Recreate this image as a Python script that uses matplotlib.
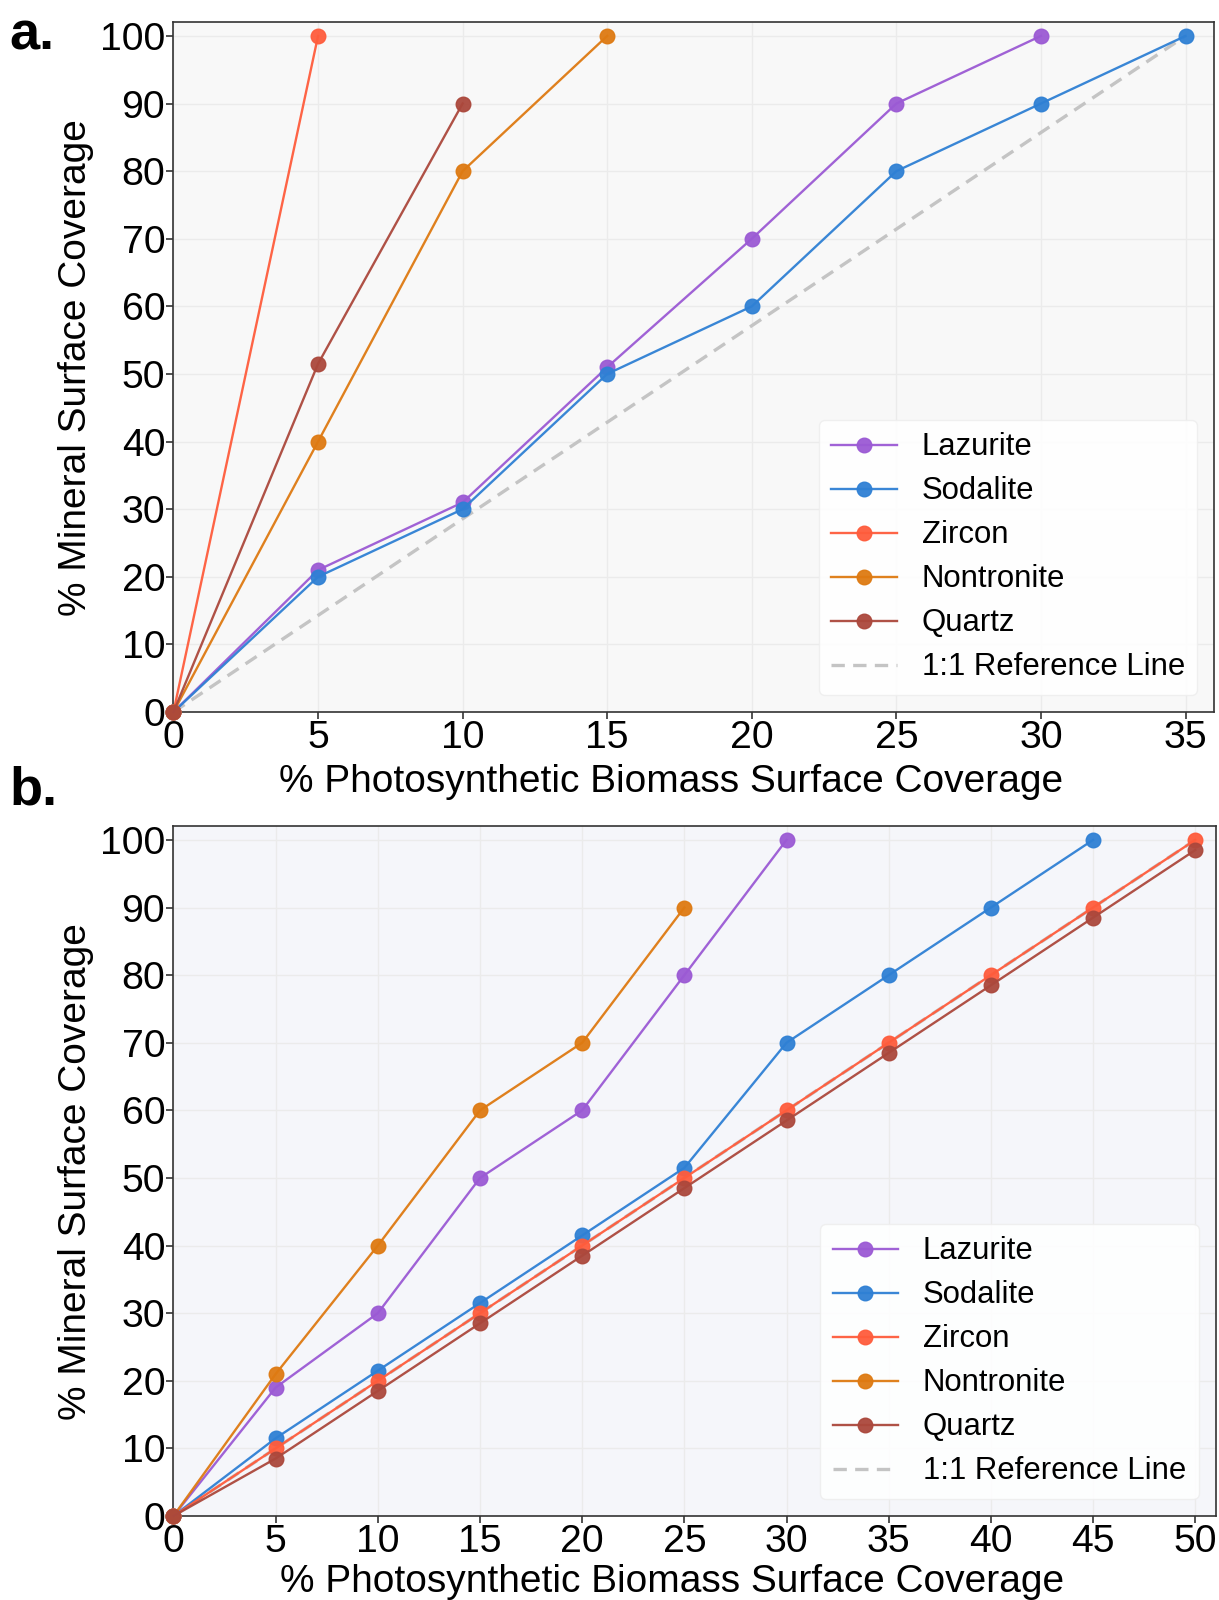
import matplotlib
matplotlib.use("Agg")
import matplotlib.pyplot as plt

plt.rcParams["font.family"] = ["Liberation Sans", "DejaVu Sans"]

minerals = ["Lazurite", "Sodalite", "Zircon", "Nontronite", "Quartz"]
colors = {
    "Lazurite": "#9b5ad4",
    "Sodalite": "#2f80d4",
    "Zircon": "#ff5c3c",
    "Nontronite": "#de7a12",
    "Quartz": "#ab483c",
}

# panel a
a_x = {
    "Lazurite": [0, 5, 10, 15, 20, 25, 30],
    "Sodalite": [0, 5, 10, 15, 20, 25, 30, 35],
    "Zircon": [0, 5],
    "Nontronite": [0, 5, 10, 15],
    "Quartz": [0, 5, 10],
}
a_y = {
    "Lazurite": [0, 21, 31, 51, 70, 90, 100],
    "Sodalite": [0, 20, 30, 50, 60, 80, 90, 100],
    "Zircon": [0, 100],
    "Nontronite": [0, 40, 80, 100],
    "Quartz": [0, 51.5, 90],
}
a_ref_x = [0, 35]
a_ref_y = [0, 100]
a_xticks = [0, 5, 10, 15, 20, 25, 30, 35]

# panel b
b_x = {
    "Lazurite": [0, 5, 10, 15, 20, 25, 30],
    "Sodalite": [0, 5, 10, 15, 20, 25, 30, 35, 40, 45],
    "Zircon": [0, 5, 10, 15, 20, 25, 30, 35, 40, 45, 50],
    "Nontronite": [0, 5, 10, 15, 20, 25],
    "Quartz": [0, 5, 10, 15, 20, 25, 30, 35, 40, 45, 50],
}
b_y = {
    "Lazurite": [0, 19, 30, 50, 60, 80, 100],
    "Sodalite": [0, 11.5, 21.5, 31.5, 41.5, 51.5, 70, 80, 90, 100],
    "Zircon": [0, 10, 20, 30, 40, 50, 60, 70, 80, 90, 100],
    "Nontronite": [0, 21, 40, 60, 70, 90],
    "Quartz": [0, 8.5, 18.5, 28.5, 38.5, 48.5, 58.5, 68.5, 78.5, 88.5, 98.5],
}
b_ref_x = [0, 50]
b_ref_y = [0, 100]
b_xticks = [0, 5, 10, 15, 20, 25, 30, 35, 40, 45, 50]

yticks = [0, 10, 20, 30, 40, 50, 60, 70, 80, 90, 100]


def draw_panel(ax, xs, ys, ref_x, ref_y, xticks, xmax, facecolor, label_y):
    ax.set_facecolor(facecolor)
    for name in minerals:
        ax.plot(xs[name], ys[name], color=colors[name], marker="o",
                markersize=10.5, linewidth=1.7, label=name, alpha=0.95,
                clip_on=False, zorder=3)
    ax.plot(ref_x, ref_y, color="#c4c4c4", linestyle=(0, (4, 2.5)), linewidth=2.4,
            label="1:1 Reference Line", zorder=2)
    ax.set_xlim(0, xmax)
    ax.set_ylim(0, 102)
    ax.set_xticks(xticks)
    ax.set_yticks(yticks)
    ax.grid(True, color="#ebebeb", linewidth=1.0)
    ax.set_axisbelow(True)
    ax.tick_params(labelsize=28.3, length=5, width=1.2, pad=1, color="#333333")
    for spine in ax.spines.values():
        spine.set_color("#333333")
        spine.set_linewidth(1.2)
    ax.set_xlabel("% Photosynthetic Biomass Surface Coverage", fontsize=28)
    ax.xaxis.set_label_coords(0.478, label_y)
    ax.set_ylabel("% Mineral Surface Coverage", fontsize=28, labelpad=4)
    legend = ax.legend(loc="lower right", fontsize=22.4, frameon=True, fancybox=True,
                       handlelength=2.1, handletextpad=0.8, labelspacing=0.45,
                       borderpad=0.4, borderaxespad=0.55)
    legend.get_frame().set_facecolor("white")
    legend.get_frame().set_edgecolor("#eeeeee")
    legend.get_frame().set_alpha(0.9)


fig = plt.figure(figsize=(12.19, 16), dpi=100)
ax_a = fig.add_axes([0.1423, 0.555, 0.854, 0.431])
ax_b = fig.add_axes([0.1423, 0.0525, 0.855, 0.431])

draw_panel(ax_a, a_x, a_y, a_ref_x, a_ref_y, a_xticks, 36, "#f8f8f8", -0.076)
draw_panel(ax_b, b_x, b_y, b_ref_x, b_ref_y, b_xticks, 51, "#f5f6fa", -0.069)

fig.text(0.008, 0.978, "a.", fontsize=39, fontweight="bold", va="center")
fig.text(0.008, 0.506, "b.", fontsize=39, fontweight="bold", va="center")

fig.savefig("out.png", dpi=100)
